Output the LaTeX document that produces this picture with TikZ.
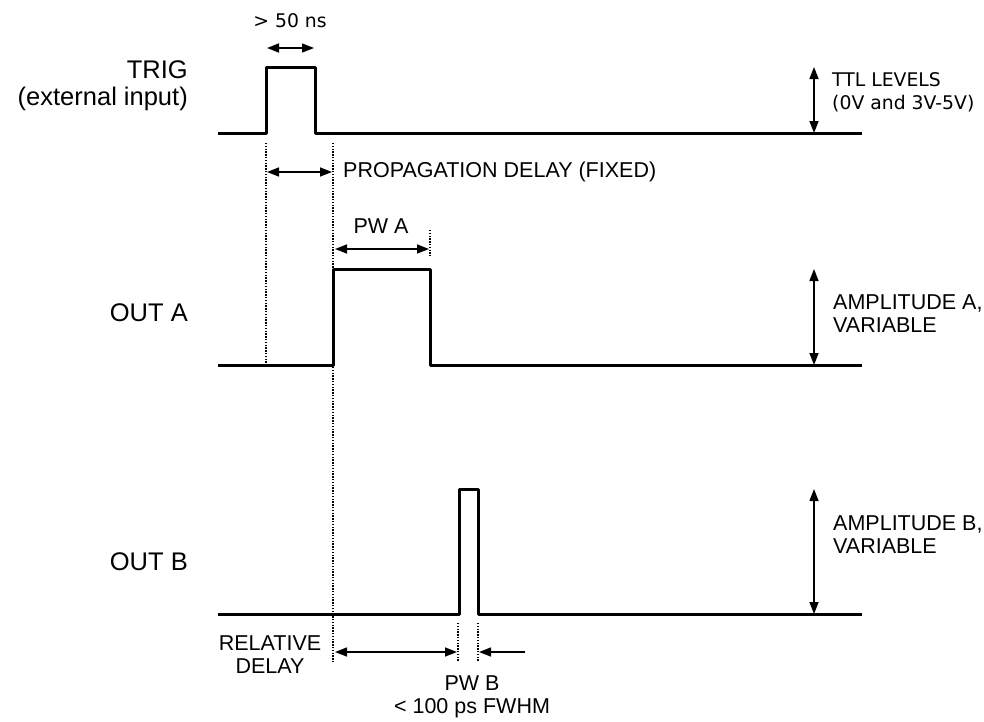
\documentclass[tikz,border=0pt]{standalone}
\usepackage{fontspec}
\setmainfont{Liberation Sans}
\newfontfamily\dvsans{DejaVu Sans}
\usepackage{xcolor}
\usetikzlibrary{arrows.meta,positioning,calc}
\tikzset{
  wave/.style={line width=3pt, line join=round, draw=black},
  dimarrow/.style={{Triangle[length=12pt,width=9pt]}-{Triangle[length=12pt,width=9pt]}, line width=1.5pt},
  onearrow/.style={-{Triangle[length=12pt,width=9pt]}, line width=1.5pt},
  guide/.style={line width=1.4pt, dash pattern=on 1.4pt off 1.4pt},
  siglabel/.style={font=\fontsize{25.5}{27}\selectfont, align=right, inner sep=0pt, anchor=east},
  smallnote/.style={font=\fontsize{21.5}{23}\selectfont, inner sep=0pt},
  ttlnote/.style={font=\dvsans\fontsize{18.8}{23}\selectfont, inner sep=0pt}
}

\begin{document}
\begin{tikzpicture}[x=1pt, y=-1pt]
    \useasboundingbox (0,0) rectangle (984,721);

    % waveforms
    \draw[wave] (218,133) -- (266,133) -- (266,67) -- (315,67) -- (315,133) -- (862,133);
    \draw[wave] (218,365) -- (333,365) -- (333,269) -- (430,269) -- (430,365) -- (862,365);
    \draw[wave] (218,614) -- (459,614) -- (459,489) -- (478,489) -- (478,614) -- (862,614);

    % signal names
    \node[siglabel] (trig) at (188,86) {TRIG\\(external input)};
    \node[siglabel] (outa) at (188,313) {OUT A};
    \node[siglabel] (outb) at (188,562) {OUT B};

    % guide lines
    \coordinate (g1top) at (266,143);  \coordinate (g1bot) at (266,365);
    \coordinate (g2top) at (333,143);  \coordinate (g2bot) at (333,662);
    \coordinate (g3top) at (430,230);  \coordinate (g3bot) at (430,256);
    \coordinate (g4top) at (458,623);  \coordinate (g4bot) at (458,662);
    \coordinate (g5top) at (478,623);  \coordinate (g5bot) at (478,662);
    \draw[guide] (g1top) -- (g1bot);
    \draw[guide] (g2top) -- (g2bot);
    \draw[guide] (g3top) -- (g3bot);
    \draw[guide] (g4top) -- (g4bot);
    \draw[guide] (g5top) -- (g5bot);

    % timing dimensions
    \coordinate (wl) at (267,48);   \coordinate (wr) at (314,48);
    \node[ttlnote] (width) at (290,21) {> 50 ns};
    \draw[dimarrow] (wl) -- (wr);

    \coordinate (pl) at (267,172);  \coordinate (pr) at (332,172);
    \node[smallnote, anchor=west] (prop) at (343,172) {PROPAGATION DELAY (FIXED)};
    \draw[dimarrow] (pl) -- (pr);

    \coordinate (al) at (335,249);  \coordinate (ar) at (429,249);
    \node[smallnote] (pwa) at (381,226) {PW A};
    \draw[dimarrow] (al) -- (ar);

    \coordinate (rl) at (335,652);  \coordinate (rr) at (457,652);
    \coordinate (bs) at (525,652);  \coordinate (be) at (479,652);
    \node[smallnote, align=center] (rel) at (270,655) {RELATIVE\\DELAY};
    \node[smallnote, align=center] (pwb) at (472,697) {PW B\\< 100 ps FWHM};
    \draw[dimarrow] (rl) -- (rr);
    \draw[onearrow] (bs) -- (be);

    % amplitudes
    \coordinate (tt) at (814,67);   \coordinate (tb) at (814,133);
    \coordinate (at) at (814,269);  \coordinate (ab) at (814,365);
    \coordinate (bt) at (814,489);  \coordinate (bb) at (814,614);
    \draw[dimarrow] (tt) -- (tb);
    \draw[dimarrow] (at) -- (ab);
    \draw[dimarrow] (bt) -- (bb);
    \node[ttlnote, align=left, anchor=west] (ttl) at (832,92) {TTL LEVELS\\(0V and 3V-5V)};
    \node[smallnote, align=left, anchor=west] (ampa) at (833,314) {AMPLITUDE A,\\VARIABLE};
    \node[smallnote, align=left, anchor=west] (ampb) at (833,535) {AMPLITUDE B,\\VARIABLE};
\end{tikzpicture}
\end{document}
